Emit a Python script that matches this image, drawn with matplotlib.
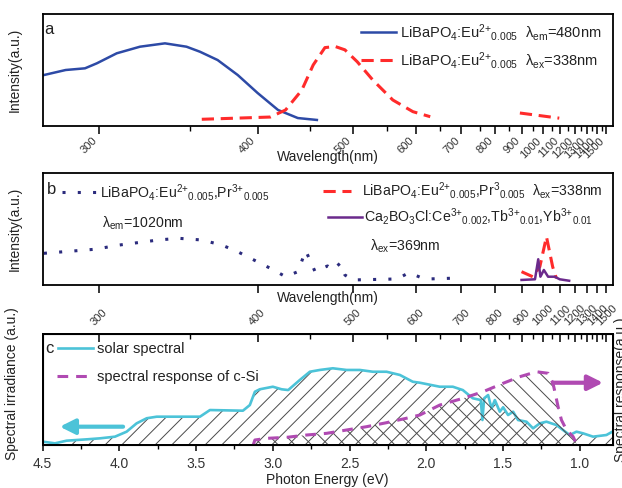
import numpy as np
import matplotlib
matplotlib.use('Agg')
import matplotlib.pyplot as plt
from matplotlib.lines import Line2D
from matplotlib.legend import Legend

plt.rcParams['font.family'] = ['Liberation Sans', 'DejaVu Sans']
plt.rcParams['mathtext.fontset'] = 'custom'
plt.rcParams['mathtext.rm'] = 'Liberation Sans'
plt.rcParams['mathtext.it'] = 'Liberation Sans:italic'
plt.rcParams['mathtext.bf'] = 'Liberation Sans:bold'
plt.rcParams['hatch.linewidth'] = 0.7

HC = 1239.84  # eV*nm

# ---------------- data ----------------
# panel a: excitation (lambda_em = 480 nm)
a_exc_nm = [276, 285, 293.5, 299, 308.6, 320.7, 334.8, 348, 356.8, 369, 384, 400, 418, 437, 457]
a_exc_int = [0.455, 0.50, 0.515, 0.56, 0.649, 0.708, 0.738, 0.708, 0.663, 0.589, 0.455, 0.295, 0.143, 0.071, 0.054]
# panel a: emission (lambda_ex = 338 nm)
a_em_nm = [358, 411, 425, 441, 453, 466, 478, 490, 506, 528, 559, 594, 628, float('nan'), 892, 1094]
a_em_int = [0.06, 0.08, 0.143, 0.32, 0.545, 0.70, 0.71, 0.68, 0.574, 0.41, 0.232, 0.128, 0.083, float('nan'), 0.116, 0.07]

# panel b
b_exc_nm = [276, 298, 310, 331, 343, 358, 372, 384, 397, 414, 425, 437, 445, 451, 455, 469, 475, 484, 490, 500,
            566, 587, 608, 624, 701]
b_exc_int = [0.283, 0.319, 0.357, 0.402, 0.417, 0.402, 0.357, 0.297, 0.223, 0.134, 0.074, 0.119, 0.306, 0.196,
             0.119, 0.170, 0.134, 0.194, 0.089, 0.045, 0.054, 0.110, 0.069, 0.054, 0.063]
b_em_nm = [899, 949, 984, 1019, 1054, 1076]
b_em_int = [0.119, 0.074, 0.163, 0.431, 0.163, 0.06]
b_ca_nm = [899, 960, 976, 987, 1005, 1028, 1066, 1097, 1160]
b_ca_int = [0.045, 0.051, 0.23, 0.074, 0.134, 0.074, 0.074, 0.051, 0.038]

# panel c: solar spectrum vs photon energy
solar_E = [4.500, 4.420, 4.344, 4.213, 4.127, 4.029, 3.953, 3.888, 3.822, 3.757, 3.475, 3.410, 3.195, 3.150,
           3.117, 3.085, 3.000, 2.943, 2.900, 2.824, 2.759, 2.694, 2.609, 2.520, 2.433, 2.348, 2.259, 2.172,
           2.088, 2.042, 1.912, 1.827, 1.762, 1.697, 1.645, 1.634, 1.623, 1.597, 1.575, 1.553, 1.521, 1.499,
           1.467, 1.434, 1.402, 1.347, 1.304, 1.260, 1.217, 1.152, 1.109, 1.065, 1.021, 0.978, 0.913, 0.826, 0.787]
solar_I = [0.030, 0.015, 0.039, 0.051, 0.060, 0.075, 0.120, 0.195, 0.241, 0.255, 0.255, 0.315, 0.309, 0.360,
           0.480, 0.502, 0.525, 0.502, 0.495, 0.586, 0.660, 0.676, 0.691, 0.676, 0.676, 0.660, 0.660, 0.631,
           0.570, 0.561, 0.525, 0.525, 0.495, 0.421, 0.405, 0.225, 0.421, 0.450, 0.331, 0.405, 0.300, 0.340,
           0.270, 0.300, 0.225, 0.210, 0.150, 0.195, 0.210, 0.180, 0.135, 0.090, 0.120, 0.105, 0.075, 0.090, 0.120]
# c-Si spectral response
si_E = [3.128, 3.117, 3.041, 2.910, 2.780, 2.650, 2.520, 2.389, 2.259, 2.129, 2.042, 1.912, 1.760, 1.630,
        1.499, 1.391, 1.282, 1.206, 1.174, 1.141, 1.119, 1.086, 1.043, 1.021]
si_R = [0.0, 0.045, 0.060, 0.069, 0.090, 0.105, 0.135, 0.165, 0.201, 0.241, 0.270, 0.360, 0.421, 0.480,
        0.556, 0.615, 0.660, 0.646, 0.556, 0.345, 0.225, 0.135, 0.075, 0.009]

wl_major = [300, 400, 500, 600, 700, 800, 900, 1000, 1100, 1200, 1300, 1400, 1500]
wl_minor = [350, 450, 550, 650, 750, 850, 950, 1050, 1150, 1250, 1350, 1450]
E_ticks = [4.5, 4.0, 3.5, 3.0, 2.5, 2.0, 1.5, 1.0]
E_minor = [4.25, 3.75, 3.25, 2.75, 2.25, 1.75, 1.25]

# ---------------- styles ----------------
C_BLUE = '#2d4aa6'
C_RED = '#ff2b2b'
C_NAVY = '#2b2b7d'
C_PURP = '#6b2a8c'
C_CYAN = '#4cc3d8'
C_MAG = '#b04ab2'
TXT = '#222222'
HATCH = '#4a4a4a'

fig = plt.figure(figsize=(6.22, 4.88), dpi=100)
W, H = 622.0, 488.0
L, R = 42.7, 612.7


def mk_ax(top, bottom):
    return fig.add_axes([L / W, 1 - bottom / H, (R - L) / W, (bottom - top) / H])


ax_a = mk_ax(14, 126)
ax_b = mk_ax(173, 285)
ax_c = mk_ax(334, 445)

XLIM = (4.5, 0.785)


def to_E(nm):
    return HC / np.asarray(nm, dtype=float)


def add_key(ax, label, xy, fs, hl, pad, **kw):
    h = Line2D([], [], **kw)
    leg = Legend(ax, [h], [label], loc='center left', bbox_to_anchor=xy, bbox_transform=ax.transAxes,
                 frameon=False, fontsize=fs, handlelength=hl, handletextpad=pad, borderpad=0,
                 borderaxespad=0)
    for t in leg.get_texts():
        t.set_color(TXT)
    ax.add_artist(leg)


for ax in (ax_a, ax_b, ax_c):
    ax.set_xlim(*XLIM)
    ax.set_ylim(0, 1)
    ax.set_yticks([])
    for s in ax.spines.values():
        s.set_linewidth(1.3)

# ---------------- panel a ----------------
ax_a.plot(to_E(a_exc_nm), a_exc_int, color=C_BLUE, lw=1.8)
ax_a.plot(to_E(a_em_nm), a_em_int, color=C_RED, lw=2.2, linestyle=(0, (4, 2.2)))
ax_a.set_xticks(to_E(wl_major))
ax_a.set_xticklabels([str(w) for w in wl_major], rotation=45, ha='right')
ax_a.set_xticks(to_E(wl_minor), minor=True)
ax_a.tick_params(axis='x', which='major', direction='out', length=6, width=1.1, labelsize=8,
                 labelcolor='#333333', pad=1)
ax_a.tick_params(axis='x', which='minor', direction='out', length=3.5, width=1.0)
ax_a.set_xlabel('Wavelength(nm)', fontsize=10, color=TXT)
ax_a.xaxis.set_label_coords(0.5, -0.21)
ax_a.set_ylabel('Intensity(a.u.)', fontsize=10, color=TXT)
ax_a.yaxis.set_label_coords(-0.037, 0.5)
ax_a.text(0.003, 0.866, 'a', transform=ax_a.transAxes, fontsize=12, va='center', ha='left', color=TXT)
add_key(ax_a, r'LiBaPO$_4$:Eu$^{2{+}}{}_{0.005}$  λ$_{\mathrm{em}}$=480nm', (0.558, 0.839), 10.5, 2.45, 0.27,
        color=C_BLUE, lw=1.8)
add_key(ax_a, r'LiBaPO$_4$:Eu$^{2{+}}{}_{0.005}$  λ$_{\mathrm{ex}}$=338nm', (0.558, 0.589), 10.5, 2.45, 0.27,
        color=C_RED, lw=2.2, linestyle=(0, (4, 2.2)))

# ---------------- panel b ----------------
ax_b.plot(to_E(b_exc_nm), b_exc_int, color=C_NAVY, lw=2.2, linestyle=(0, (1, 4)))
ax_b.plot(to_E(b_em_nm), b_em_int, color=C_RED, lw=2.2, linestyle=(0, (4, 2.2)))
ax_b.plot(to_E(b_ca_nm), b_ca_int, color=C_PURP, lw=1.8)
ax_b.set_xticks(to_E(wl_major))
ax_b.set_xticklabels([])
ax_b.tick_params(axis='x', which='major', direction='out', length=6, width=1.1)
ax_b.set_xlabel('Wavelength(nm)', fontsize=10, color=TXT)
ax_b.xaxis.set_label_coords(0.5, -0.05)
ax_b.set_ylabel('Intensity(a.u.)', fontsize=10, color=TXT)
ax_b.yaxis.set_label_coords(-0.037, 0.5)
ax_b.text(0.007, 0.857, 'b', transform=ax_b.transAxes, fontsize=12, va='center', ha='left', color=TXT)
add_key(ax_b, r'LiBaPO$_4$:Eu$^{2{+}}{}_{0.005}$,Pr$^{3{+}}{}_{0.005}$', (0.034, 0.83), 10.2, 2.45, 0.2,
        color=C_NAVY, lw=2.2, linestyle=(0, (1, 4)))
ax_b.text(0.104, 0.554, r'λ$_{\mathrm{em}}$=1020nm', transform=ax_b.transAxes, fontsize=10.2, va='center',
          color=TXT)
add_key(ax_b, r'LiBaPO$_4$:Eu$^{2{+}}{}_{0.005}$,Pr$^{3}{}_{0.005}$  λ$_{\mathrm{ex}}$=338nm', (0.492, 0.842),
        10.2, 2.0, 0.75, color=C_RED, lw=2.2, linestyle=(0, (4, 2.2)))
add_key(ax_b, r'Ca$_2$BO$_3$Cl:Ce$^{3{+}}{}_{0.002}$,Tb$^{3{+}}{}_{0.01}$,Yb$^{3{+}}{}_{0.01}$', (0.5, 0.61),
        10.2, 2.45, 0.14, color=C_PURP, lw=1.8)
ax_b.text(0.574, 0.348, r'λ$_{\mathrm{ex}}$=369nm', transform=ax_b.transAxes, fontsize=10.2, va='center',
          color=TXT)

# ---------------- panel c ----------------
ax_c2 = ax_c.twinx()
ax_c2.set_ylim(0, 1)
ax_c2.set_yticks([])
ax_c.fill_between(solar_E, solar_I, 0, facecolor='none', edgecolor=HATCH, hatch='//', linewidth=0)
ax_c2.fill_between(si_E, si_R, 0, facecolor='none', edgecolor=HATCH, hatch='\\\\', linewidth=0)
ax_c.plot(solar_E, solar_I, color=C_CYAN, lw=1.9)
ax_c2.plot(si_E, si_R, color=C_MAG, lw=2.2, linestyle=(0, (3.5, 2.6)))

ax_c.set_xticks(E_ticks)
ax_c.set_xticklabels(['%.1f' % e for e in E_ticks])
ax_c.set_xticks(E_minor, minor=True)
ax_c.tick_params(axis='x', which='major', direction='out', length=4, width=1.1, labelsize=10,
                 labelcolor='#333333', pad=5)
ax_c.tick_params(axis='x', which='minor', direction='out', length=3, width=1.0)
ax_c.set_xlabel('Photon Energy (eV)', fontsize=10, color=TXT)
ax_c.xaxis.set_label_coords(0.5, -0.25)
ax_c.set_ylabel('Spectral irradiance (a.u.)', fontsize=10, color=TXT)
ax_c.yaxis.set_label_coords(-0.042, 0.55)
ax_c2.set_ylabel('Spectral response(a.u.)', fontsize=10, color=TXT, rotation=90, labelpad=1)
for s in ax_c2.spines.values():
    s.set_linewidth(1.3)

top = ax_c.twiny()
top.set_xlim(*XLIM)
top.set_xticks(to_E(wl_major))
top.set_xticklabels([str(w) for w in wl_major], rotation=45)
top.set_xticks(to_E(wl_minor), minor=True)
top.tick_params(axis='x', which='major', direction='in', length=6, width=1.1, labelsize=8,
                labelcolor='#333333', pad=5)
top.tick_params(axis='x', which='minor', direction='in', length=3.5, width=1.0)
top.set_yticks([])

ax_c.text(0.004, 0.865, 'c', transform=ax_c.transAxes, fontsize=12, va='center', ha='left', color=TXT)
add_key(ax_c2, 'solar spectral', (0.027, 0.865), 10.5, 2.4, 0.27, color=C_CYAN, lw=1.9)
add_key(ax_c2, 'spectral response of c-Si', (0.025, 0.61), 10.5, 2.05, 0.68, color=C_MAG, lw=2.2,
        linestyle=(0, (3.5, 2.6)))

ax_c2.annotate('', xy=(0.03, 0.165), xytext=(0.141, 0.165), xycoords='axes fraction',
               arrowprops=dict(arrowstyle='-|>,head_length=0.9,head_width=0.45', lw=3, color=C_CYAN,
                               shrinkA=0, shrinkB=0))
ax_c2.annotate('', xy=(0.983, 0.561), xytext=(0.895, 0.561), xycoords='axes fraction',
               arrowprops=dict(arrowstyle='-|>,head_length=0.9,head_width=0.45', lw=3, color=C_MAG,
                               shrinkA=0, shrinkB=0))

fig.savefig('out.png', dpi=100)
